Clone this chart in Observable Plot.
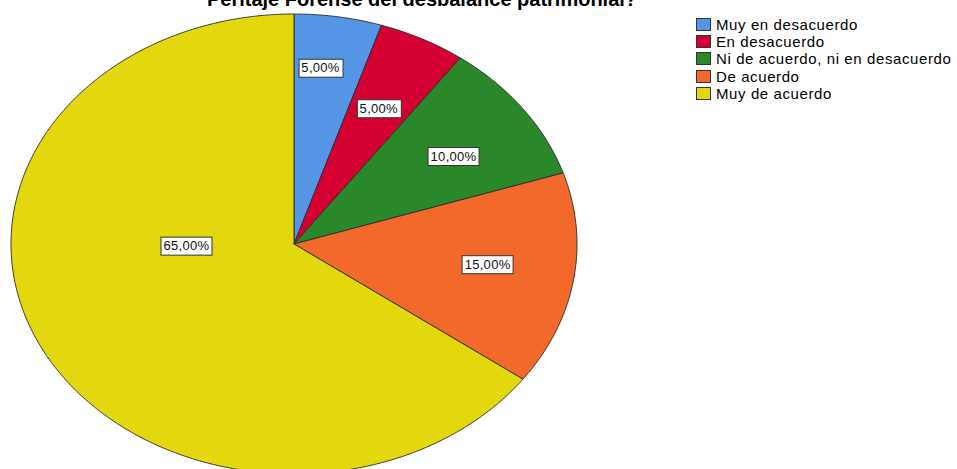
<!DOCTYPE html>
<html>
<head>
<meta charset="utf-8">
<script src="https://cdn.jsdelivr.net/npm/d3@7"></script>
<script src="https://cdn.jsdelivr.net/npm/@observablehq/plot@0.6"></script>
<style>
  body { margin: 0; background: #fff; overflow: hidden; }
  #wrap { position: relative; width: 957px; height: 469px; overflow: hidden; }
  #chart { position: absolute; left: 0; top: 0; }
  #title {
    position: absolute; left: 0; width: 844px; top: -11px;
    text-align: center; font: bold 20px "Liberation Sans", Arial, sans-serif;
    line-height: 20px; color: #000; white-space: nowrap;
  }
  #legend {
    position: absolute; left: 696px; top: 16px;
    font: 15px "Liberation Sans", Arial, sans-serif; letter-spacing: 0.6px; color: #000;
  }
  .row { display: flex; align-items: center; height: 17.2px; white-space: nowrap; }
  .sw { width: 13px; height: 11px; border: 1px solid #333; margin-right: 5px; flex: none; }
</style>
</head>
<body>
<div id="wrap">
  <div id="chart"></div>
  <div id="title"></div>
  <div id="legend"></div>
</div>
<script>
// Survey answers and their share of respondents (%)
const titleText = "Peritaje Forense del desbalance patrimonial?";
const categories = [
  "Muy en desacuerdo",
  "En desacuerdo",
  "Ni de acuerdo, ni en desacuerdo",
  "De acuerdo",
  "Muy de acuerdo"
];
const percents = [5, 5, 10, 15, 65];
const colors = ["#5595e6", "#d50032", "#2a882a", "#f2692b", "#e2d80d"];

// Label placement inside each slice: radius (fraction of pie) and turn from mid-angle (degrees)
const labelRadius = [0.77, 0.66, 0.68, 0.69, 0.38];
const labelTurn = [-2, 0, 2, -1.5, 25.6];

const fmt = v => v.toFixed(2).replace(".", ",") + "%";

// Slices start at 12 o'clock and run clockwise
const total = d3.sum(percents);
let acc = 0;
const slices = categories.map((c, i) => {
  const a0 = acc / total * 360;
  acc += percents[i];
  const a1 = acc / total * 360;
  return {category: c, value: percents[i], a0, a1};
});

const rad = d => d * Math.PI / 180;
const outline = [];
for (const s of slices) {
  outline.push({category: s.category, x: 0, y: 0});
  const n = Math.max(2, Math.ceil((s.a1 - s.a0) * 2));
  for (let k = 0; k <= n; ++k) {
    const a = rad(s.a0 + (s.a1 - s.a0) * k / n);
    outline.push({category: s.category, x: Math.sin(a), y: Math.cos(a)});
  }
  outline.push({category: s.category, x: 0, y: 0});
}

const labels = slices.map((s, i) => {
  const a = rad((s.a0 + s.a1) / 2 + labelTurn[i]);
  return {
    category: s.category,
    x: labelRadius[i] * Math.sin(a),
    y: labelRadius[i] * Math.cos(a),
    text: fmt(s.value)
  };
});

const plot = Plot.plot({
  width: 957,
  height: 469,
  marginTop: 0, marginRight: 0, marginBottom: 0, marginLeft: 0,
  style: {background: "#fff", overflow: "visible"},
  x: {domain: [-1, 1], range: [10.5, 576.5], axis: null},
  y: {domain: [-1, 1], range: [473.5, 13.5], axis: null},
  color: {domain: categories, range: colors},
  marks: [
    Plot.line(outline, {
      x: "x", y: "y", z: "category",
      fill: "category", stroke: "#2b2b2b", strokeWidth: 0.9,
      strokeLinejoin: "round"
    }),
    Plot.text(labels, {
      x: "x", y: "y", text: "text",
      fontSize: 13, fill: "#111",
      fontFamily: "Liberation Sans, Arial, sans-serif"
    })
  ]
});

document.getElementById("chart").appendChild(plot);

// White boxes behind the percentage labels, sharing each label's transform
d3.select(plot).selectAll("g[aria-label='text'] text").each(function () {
  const t = d3.select(this);
  t.style("letter-spacing", "0.3px");
  const b = this.getBBox();
  d3.select(this.parentNode).insert("rect", () => this)
    .attr("transform", t.attr("transform"))
    .attr("x", Math.round(b.x) - 2.5)
    .attr("y", Math.round(b.y + b.height / 2) - 9)
    .attr("width", Math.round(b.width) + 5)
    .attr("height", 18)
    .attr("fill", "#fff")
    .attr("stroke", "#333")
    .attr("stroke-width", 1);
});

document.getElementById("title").textContent = titleText;

const legend = d3.select("#legend");
categories.forEach((c, i) => {
  const row = legend.append("div").attr("class", "row");
  row.append("div").attr("class", "sw").style("background", colors[i]);
  row.append("span").text(c);
});
</script>
</body>
</html>
